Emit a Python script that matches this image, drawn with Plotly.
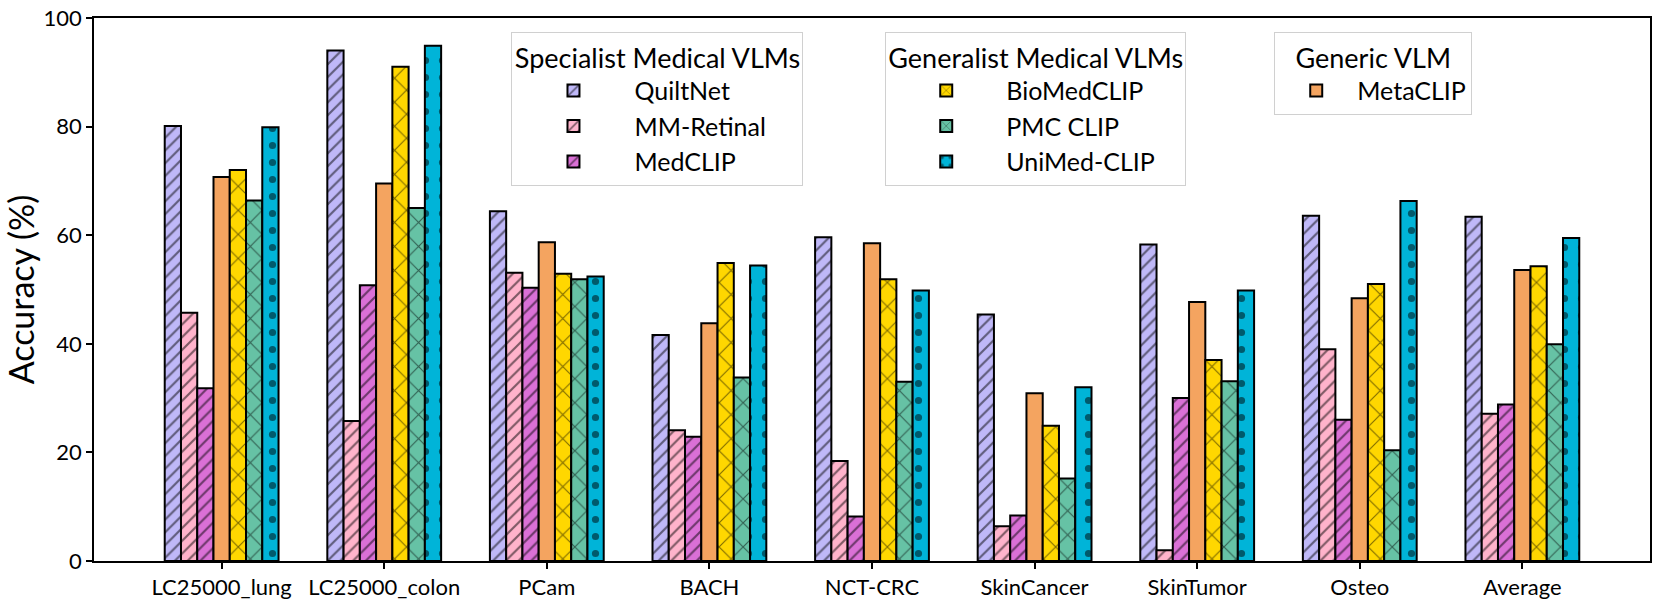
import plotly.graph_objects as go

categories = ["LC25000_lung", "LC25000_colon", "PCam", "BACH", "NCT-CRC",
              "SkinCancer", "SkinTumor", "Osteo", "Average"]

quiltnet   = [80.1, 94.0, 64.4, 41.6, 59.6, 45.4, 58.3, 63.6, 63.4]
mm_retinal = [45.7, 25.8, 53.1, 24.1, 18.4, 6.4, 2.0, 39.0, 27.1]
medclip    = [31.8, 50.8, 50.3, 22.9, 8.2, 8.4, 30.0, 26.0, 28.8]
metaclip   = [70.7, 69.5, 58.7, 43.8, 58.5, 30.9, 47.7, 48.4, 53.6]
biomedclip = [72.0, 91.0, 52.9, 54.9, 51.9, 24.9, 37.0, 51.0, 54.3]
pmc_clip   = [66.4, 65.0, 51.9, 33.8, 33.0, 15.2, 33.1, 20.4, 39.9]
unimed     = [79.9, 94.9, 52.4, 54.4, 49.8, 32.0, 49.8, 66.3, 59.5]

y_ticks = [0, 20, 40, 60, 80, 100]

FONT = "Lato"

series = [
    # name, values, color, pattern, pattern size, solidity, legend
    ("QuiltNet", quiltnet, "#bfb8f8", "/", 9, 0.24, "legend"),
    ("MM-Retinal", mm_retinal, "#ffb3cb", "/", 9, 0.24, "legend"),
    ("MedCLIP", medclip, "#da70d6", "/", 9, 0.24, "legend"),
    ("MetaCLIP", metaclip, "#f4a460", "", 8, 0.1, "legend3"),
    ("BioMedCLIP", biomedclip, "#ffd700", "x", 17, 0.13, "legend2"),
    ("PMC CLIP", pmc_clip, "#66c2a5", "x", 17, 0.13, "legend2"),
    ("UniMed-CLIP", unimed, "#00b4d8", ".", 17, 0.14, "legend2"),
]

fig = go.Figure()
for name, vals, color, shape, psize, sol, leg in series:
    fig.add_trace(go.Bar(
        x=categories, y=vals, name=name, legend=leg,
        marker=dict(
            color=color,
            line=dict(color="black", width=2),
            pattern=dict(shape=shape, fgcolor="black", size=psize,
                         solidity=sol, fillmode="overlay"),
        ),
    ))

legend_common = dict(
    bgcolor="rgba(255,255,255,0.9)",
    bordercolor="#d0d0d0",
    borderwidth=1,
    font=dict(family=FONT, size=25, color="black"),
    xanchor="left", yanchor="top",
    itemclick=False,
)
title_font = dict(family=FONT, size=27, color="black")

fig.update_layout(
    width=1661, height=605,
    margin=dict(l=94, r=11, t=18, b=44),
    plot_bgcolor="white", paper_bgcolor="white",
    barmode="group", bargap=0.3, bargroupgap=0.0,
    font=dict(family=FONT, color="black"),
    legend=dict(x=0.2683, y=0.975, itemwidth=112,
                title=dict(text="Specialist Medical VLMs", side="top center",
                           font=title_font),
                **legend_common),
    legend2=dict(x=0.5085, y=0.975, itemwidth=110,
                 title=dict(text="Generalist Medical VLMs", side="top center",
                            font=title_font),
                 **legend_common),
    legend3=dict(x=0.7585, y=0.975, itemwidth=72,
                 title=dict(text="Generic VLM", side="top center",
                            font=title_font),
                 **legend_common),
)

fig.update_xaxes(
    type="category", range=[-0.785, 8.785], automargin=False,
    showline=True, linecolor="black", linewidth=1.5, mirror=True,
    ticks="outside", ticklen=6, tickwidth=1.5, tickcolor="black",
    tickfont=dict(family=FONT, size=22, color="black"),
    showgrid=False, zeroline=False,
)
fig.update_yaxes(
    range=[0, 100], tickvals=y_ticks, automargin=False,
    showline=True, linecolor="black", linewidth=1.5, mirror=True,
    ticks="outside", ticklen=6, tickwidth=1.5, tickcolor="black",
    tickfont=dict(family=FONT, size=22, color="black"),
    title=dict(text="Accuracy (%)", font=dict(family=FONT, size=34, color="black"),
               standoff=2),
    showgrid=False, zeroline=False,
)

fig.write_html("out.html",
               config={"displayModeBar": False},
               post_script="document.body.style.margin='0';"
                           "document.body.style.overflow='hidden';")
